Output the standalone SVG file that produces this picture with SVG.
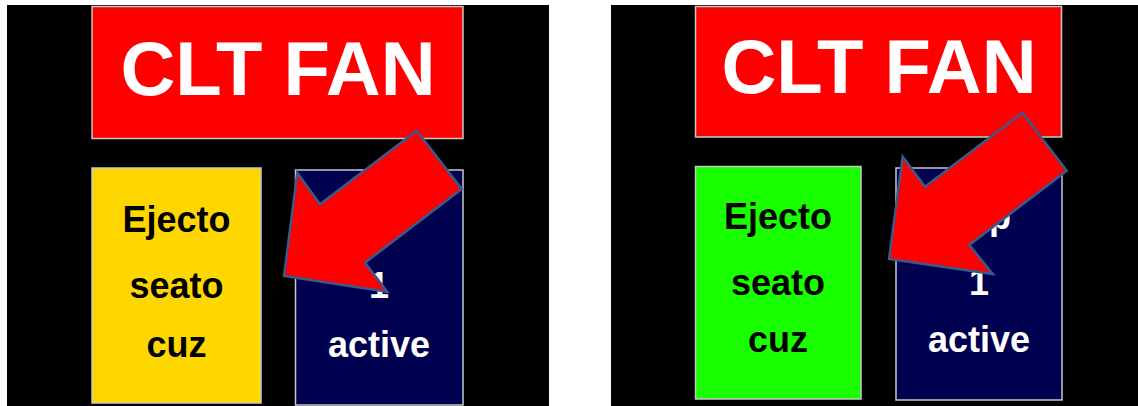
<svg xmlns="http://www.w3.org/2000/svg" width="1138" height="406" viewBox="0 0 1138 406">
<style>
.bg{fill:#000000}
.box{stroke:#c8c8c8;stroke-width:1.5}
.red{fill:#ff0000}
.yellow{fill:#ffd700}
.green{fill:#19ff00}
.navy{fill:#000050}
.title{font-family:"Liberation Sans",Arial,sans-serif;font-weight:bold;font-size:76px;fill:#ffffff;text-anchor:middle}
.lbl{font-family:"Liberation Sans",Arial,sans-serif;font-weight:bold;font-size:36px;text-anchor:middle}
.dark{fill:#000000}
.light{fill:#ffffff}
.arrow{fill:#ff0000;stroke:#3b5a8c;stroke-width:2.5;stroke-linejoin:miter}
</style>
<rect x="0" y="0" width="1138" height="406" fill="#ffffff"/>
<g id="panel-left">
<rect class="bg" x="7" y="5" width="542" height="401"/>
<g id="title-left">
<rect class="box red" x="92" y="6.5" width="371" height="132"/>
<text class="title" x="278" y="95">CLT FAN</text>
</g>
<g id="eject-left">
<rect class="box yellow" x="92" y="168" width="169" height="235"/>
<text class="lbl dark" x="176.5" y="232">Ejecto</text>
<text class="lbl dark" x="176.5" y="298">seato</text>
<text class="lbl dark" x="176.5" y="357">cuz</text>
</g>
<g id="grp-left">
<rect class="box navy" x="295.5" y="170" width="167.5" height="235"/>
<text class="lbl light" x="379" y="232">Grp</text>
<text class="lbl light" x="379" y="298">1</text>
<text class="lbl light" x="379" y="357">active</text>
</g>
</g>
<g id="panel-right">
<rect class="bg" x="611" y="5" width="527" height="401"/>
<g id="title-right">
<rect class="box red" x="695.5" y="6.5" width="366" height="130.5"/>
<text class="title" x="879" y="93">CLT FAN</text>
</g>
<g id="eject-right">
<rect class="box green" x="695.5" y="166.5" width="165.5" height="232.5"/>
<text class="lbl dark" x="778" y="229">Ejecto</text>
<text class="lbl dark" x="778" y="295">seato</text>
<text class="lbl dark" x="778" y="352">cuz</text>
</g>
<g id="grp-right">
<rect class="box navy" x="896" y="168" width="166" height="232"/>
<text class="lbl light" x="979" y="229">Grp</text>
<text class="lbl light" x="979" y="295">1</text>
<text class="lbl light" x="979" y="352">active</text>
</g>
</g>
<g id="connectors">
<polygon class="arrow" points="416.7,130.7 461.7,189 365,262.7 387.3,291.7 284,276 297.3,172.7 320,204.3"/>
<polygon class="arrow" points="1022.3,112.7 1066.7,170.7 969.3,245 992.7,274 889,259 902.7,156.7 925,186.7"/>
</g>
</svg>
